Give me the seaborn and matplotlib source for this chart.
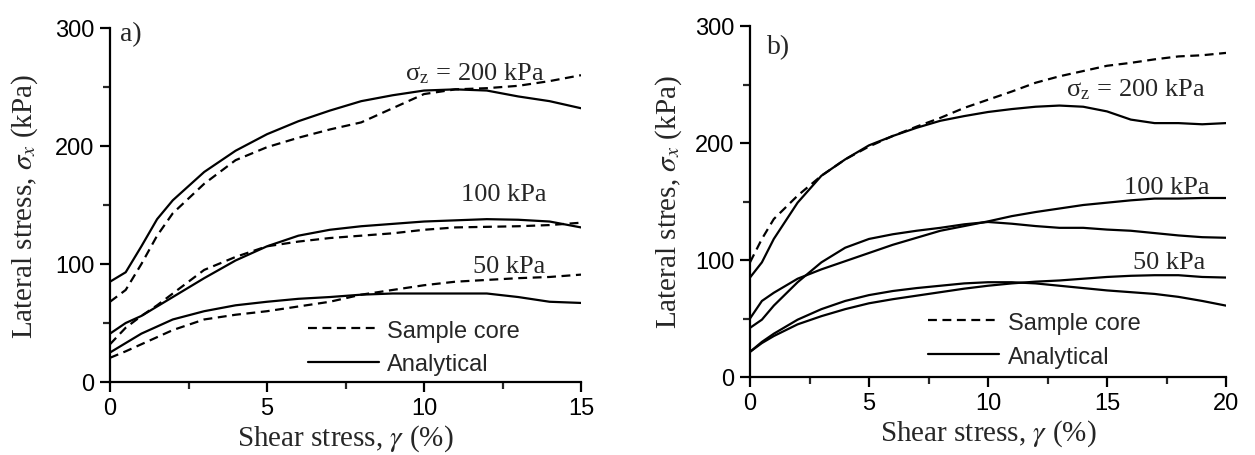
import numpy as np
import pandas as pd
import matplotlib
matplotlib.use("Agg")
import matplotlib.pyplot as plt
import seaborn as sns
from matplotlib.ticker import MultipleLocator
from matplotlib.lines import Line2D

sns.set_theme(style="ticks")
plt.rcParams['font.family'] = ['Liberation Sans', 'DejaVu Sans']
plt.rcParams['mathtext.fontset'] = 'stix'

# ---------------- Panel a data ----------------
xa = [0, 0.5, 1, 1.5, 2, 3, 4, 5, 6, 7, 8, 9, 10, 11, 12, 13, 14, 15]
a200_core = [68, 78, 100, 124, 143, 168, 188, 199, 207, 214, 220, 232, 244, 248, 249, 251, 255, 260]
a200_anal = [85, 93, 115, 138, 154, 178, 196, 210, 221, 230, 238, 243, 247, 248, 247, 242, 238, 232]
a100_core = [32, 46, 56, 65, 75, 95, 106, 115, 119, 122, 124, 126, 129, 131, 131.5, 132, 133, 135]
a100_anal = [41, 50, 56, 64, 72, 88, 103, 115, 124, 129, 132, 134, 136, 137, 138, 137.5, 136, 131]
a50_core = [20.5, 26, 32, 38, 44, 53, 57, 60, 64, 68, 74, 78, 82, 85, 86.5, 88, 89, 91]
a50_anal = [25, 33, 41, 47, 53, 60, 65, 68, 70.5, 72, 74, 75, 75, 75, 75, 72, 68, 67]

# ---------------- Panel b data ----------------
xb = [0, 0.5, 1, 2, 3, 4, 5, 6, 7, 8, 9, 10, 11, 12, 13, 14, 15, 16, 17, 18, 19, 20]
b200_core = [98, 118, 135, 155, 172, 186, 197, 206, 214, 221.5, 230, 237, 244, 251.5, 257, 261.5, 266, 268.5, 271.5, 274, 275, 277]
b200_anal = [85, 98, 118, 149, 172, 186, 198, 206, 213, 219, 223, 226.5, 229, 231, 232, 231, 227, 220, 217, 217, 216, 217]
b100_core = [50, 65, 72, 84, 92, 99, 106, 113, 119, 125, 129, 133, 137.5, 141, 144, 147, 149, 151, 152.5, 152.5, 153, 153]
b100_anal = [42, 49, 61, 81, 98, 110.5, 118, 122, 125, 127.5, 130.5, 132.5, 131, 129, 127.5, 127.5, 126, 125, 123, 121, 119.5, 119]
b50_core = [21.5, 29, 35, 45, 52, 58, 63, 66.5, 69.5, 72.5, 75.5, 78, 80, 81.5, 82.5, 84, 85.5, 86.5, 87, 87, 85.5, 85]
b50_anal = [21.5, 30, 37, 49, 58, 65, 70, 73.5, 76, 78, 80, 81, 81, 80, 78, 76, 74, 72.5, 71, 68.5, 65, 61]

fig = plt.figure(figsize=(12.55, 4.56), dpi=100)
axa = fig.add_axes([110/1255, 1-383/456, 471/1255, 354/456])
axb = fig.add_axes([750/1255, 1-378/456, 476/1255, 351/456])

LW = 1.6
DASH = (4, 2.5)

def line(ax, x, y, dashed):
    sns.lineplot(x=x, y=y, ax=ax, color='black', lw=LW, legend=False, sort=False)
    if dashed:
        ax.lines[-1].set_dashes(DASH)

# Panel a
line(axa, xa, a200_core, True)
line(axa, xa, a200_anal, False)
line(axa, xa, a100_core, True)
line(axa, xa, a100_anal, False)
line(axa, xa, a50_core, True)
line(axa, xa, a50_anal, False)

# Panel b
line(axb, xb, b200_core, True)
line(axb, xb, b200_anal, False)
line(axb, xb, b100_core, False)
line(axb, xb, b100_anal, False)
line(axb, xb, b50_core, False)
line(axb, xb, b50_anal, False)

serif = ['Liberation Serif', 'DejaVu Serif']

def style(ax, xmax, ylab, leg_anchor, ylab_off):
    ax.set_xlim(0, xmax)
    ax.set_ylim(0, 300)
    ax.xaxis.set_major_locator(MultipleLocator(5))
    ax.xaxis.set_minor_locator(MultipleLocator(2.5))
    ax.yaxis.set_major_locator(MultipleLocator(100))
    ax.yaxis.set_minor_locator(MultipleLocator(50))
    for s in ['top', 'right']:
        ax.spines[s].set_visible(False)
    for s in ['left', 'bottom']:
        ax.spines[s].set_linewidth(1.6)
        ax.spines[s].set_color('black')
    ax.tick_params(which='major', length=7, width=1.6, labelsize=17, colors='black', pad=4)
    ax.tick_params(which='minor', length=5, width=1.6)
    ax.set_xlabel(r'Shear stress, $\gamma$ (%)', fontsize=21, family=serif, labelpad=2)
    ax.set_ylabel(ylab, fontsize=21, family=serif)
    ax.yaxis.label.set_verticalalignment('center')
    ax.yaxis.set_label_coords(ylab_off, 0.5)
    handles = [Line2D([], [], color='black', lw=LW, dashes=DASH),
               Line2D([], [], color='black', lw=LW)]
    ax.legend(handles, ['Sample core', 'Analytical'], frameon=False, fontsize=17,
              loc='lower left', bbox_to_anchor=leg_anchor, handlelength=3.0,
              handletextpad=0.35, labelspacing=0.5, borderaxespad=0)

style(axa, 15, r'Lateral stress, $\sigma_x$ (kPa)', (0.40, -0.008), -85/471)
style(axb, 20, r'Lateral stres, $\sigma_x$ (kPa)', (0.355, 0.0), -81/476)

tk = dict(fontsize=19, family=serif, ha='center', va='center')
axa.text(11.6, 262, r'σ$_\mathregular{z}$ = 200 kPa', **tk)
axa.text(12.55, 159, '100 kPa', **tk)
axa.text(12.7, 98, '50 kPa', **tk)
axb.text(16.2, 246, r'σ$_\mathregular{z}$ = 200 kPa', **tk)
axb.text(17.5, 162, '100 kPa', **tk)
axb.text(17.6, 98, '50 kPa', **tk)

tk2 = dict(tk, fontsize=20)
axa.text(0.045, 0.985, 'a)', transform=axa.transAxes, **tk2)
axb.text(0.06, 0.94, 'b)', transform=axb.transAxes, **tk2)

fig.savefig('out.png', dpi=100)
